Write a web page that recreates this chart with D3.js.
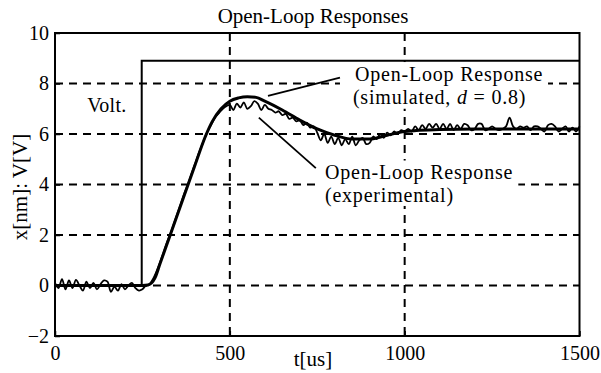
<!DOCTYPE html>
<html>
<head>
<meta charset="utf-8">
<script src="https://cdn.jsdelivr.net/npm/d3@7"></script>
<style>
  body { margin: 0; background: #fff; }
  text { font-family: "Liberation Serif", "Times New Roman", serif; fill: #000; }
</style>
</head>
<body>
<div id="chart"></div>
<script>
const xTicks = [0, 500, 1000, 1500];
const yTicks = [-2, 0, 2, 4, 6, 8, 10];
const xGrid = [500, 1000];
const yGrid = [0, 2, 4, 6, 8];

// applied voltage step
const voltT = [0, 248, 248, 1500];
const voltV = [0, 0, 8.9, 8.9];

// simulated open-loop response (d = 0.8)
const simT = [0, 250, 266, 286, 300, 350, 400, 430, 450, 475, 500, 525, 550, 575, 600, 650, 700, 750, 800, 850, 900, 950, 1000, 1100, 1200, 1300, 1400, 1500];
const simV = [0, 0, 0.02, 0.3, 0.85, 2.8, 4.75, 5.9, 6.5, 7.0, 7.3, 7.43, 7.48, 7.45, 7.3, 6.95, 6.55, 6.2, 5.95, 5.8, 5.8, 5.95, 6.1, 6.18, 6.2, 6.2, 6.2, 6.2];

// experimental response, sampled every 10 us
const expT = d3.range(0, 1501, 10);
const expV = [
  0.1, -0.1, 0.25, -0.15, 0.2, -0.1, 0.22, 0.0, -0.2, 0.15,
  -0.1, 0.1, -0.15, 0.05, 0.2, 0.15, -0.25, -0.05, -0.2, 0.05,
  -0.15, 0.0, 0.1, -0.1, -0.2, -0.15, 0.0, 0.05, 0.25, 0.55,
  0.9, 1.3, 1.7, 2.05, 2.45, 2.85, 3.25, 3.65, 4.0, 4.4,
  4.8, 5.2, 5.55, 5.9, 6.2, 6.45, 6.7, 6.85, 7.0, 7.1,
  7.15, 6.95, 7.2, 7.05, 7.25, 7.0, 7.1, 7.3, 7.2, 6.95,
  7.15, 7.0, 6.95, 6.85, 6.9, 6.75, 6.8, 6.6, 6.65, 6.5,
  6.55, 6.35, 6.45, 6.25, 6.3, 6.05, 5.75, 6.0, 5.65, 5.9,
  5.6, 5.85, 5.55, 5.8, 5.6, 5.9, 5.55, 5.75, 5.85, 5.6,
  5.65, 5.9, 5.8, 6.0, 5.85, 6.05, 5.95, 6.1, 6.0, 6.15,
  6.1, 6.2, 6.1, 6.3, 6.15, 6.35, 6.2, 6.4, 6.25, 6.4,
  6.2, 6.4, 6.2, 6.4, 6.15, 6.35, 6.2, 6.4, 6.35, 6.15,
  6.2, 6.4, 6.4, 6.15, 6.2, 6.3, 6.2, 6.15, 6.2, 6.3,
  6.65, 6.3, 6.2, 6.3, 6.25, 6.3, 6.15, 6.3, 6.3, 6.2,
  6.1, 6.35, 6.4, 6.3, 6.1, 6.2, 6.3, 6.1, 6.25, 6.1,
  6.3
];

const W = 601, H = 373;
const margin = { top: 33, right: 21.5, bottom: 37, left: 55 };
const width = W - margin.left - margin.right;
const height = H - margin.top - margin.bottom;

const svg = d3.select('#chart')
  .append('svg')
  .attr('width', W)
  .attr('height', H);

const g = svg.append('g')
  .attr('transform', `translate(${margin.left},${margin.top})`);

const x = d3.scaleLinear().domain([0, 1500]).range([0, width]);
const y = d3.scaleLinear().domain([-2, 10]).range([height, 0]);

// dashed grid
const dash = '8,6';
g.selectAll('.hgrid')
  .data(yGrid)
  .enter()
  .append('line')
  .attr('x1', 0).attr('x2', width)
  .attr('y1', d => y(d)).attr('y2', d => y(d))
  .attr('stroke', '#000').attr('stroke-width', 2)
  .attr('stroke-dasharray', dash);

g.selectAll('.vgrid')
  .data(xGrid)
  .enter()
  .append('line')
  .attr('y1', 0).attr('y2', height)
  .attr('x1', d => x(d)).attr('x2', d => x(d))
  .attr('stroke', '#000').attr('stroke-width', 2)
  .attr('stroke-dasharray', dash);

// axes with inward ticks
const xAxis = g.append('g')
  .attr('transform', `translate(0,${height})`)
  .call(d3.axisBottom(x).tickValues(xTicks).tickSize(-5).tickPadding(12).tickFormat(d3.format('d')));
const yAxis = g.append('g')
  .call(d3.axisLeft(y).tickValues(yTicks).tickSize(-5).tickPadding(6)
    .tickFormat(d => d < 0 ? '\u2212' + Math.abs(d) : d));

[xAxis, yAxis].forEach(a => {
  a.select('.domain').remove();
  a.selectAll('line').attr('stroke', '#000').attr('stroke-width', 1.5);
  a.selectAll('text')
    .style('font-family', '"Liberation Serif", "Times New Roman", serif')
    .style('font-size', '20px')
    .attr('fill', '#000');
});
xAxis.selectAll('text').attr('dy', '0.71em').attr('y', 10);

// frame
g.append('rect')
  .attr('width', width).attr('height', height)
  .attr('fill', 'none').attr('stroke', '#000').attr('stroke-width', 2);

// white patches behind annotation text
const boxes = [
  { t0: 815, t1: 1410, v0: 7.0, v1: 8.85 },
  { t0: 755, t1: 1325, v0: 3.15, v1: 4.95 }
];
g.selectAll('.box')
  .data(boxes)
  .enter()
  .append('rect')
  .attr('x', d => x(d.t0)).attr('width', d => x(d.t1) - x(d.t0))
  .attr('y', d => y(d.v1)).attr('height', d => y(d.v0) - y(d.v1))
  .attr('fill', '#fff');

const line = d3.line().x(d => x(d[0])).y(d => y(d[1]));

g.append('path')
  .datum(d3.zip(voltT, voltV))
  .attr('d', line)
  .attr('fill', 'none').attr('stroke', '#000').attr('stroke-width', 2);

g.append('path')
  .datum(d3.zip(expT, expV))
  .attr('d', line.curve(d3.curveCatmullRom))
  .attr('fill', 'none').attr('stroke', '#000').attr('stroke-width', 1.8)
  .attr('stroke-linejoin', 'round');

g.append('path')
  .datum(d3.zip(simT, simV))
  .attr('d', line.curve(d3.curveMonotoneX))
  .attr('fill', 'none').attr('stroke', '#000').attr('stroke-width', 3)
  .attr('stroke-linejoin', 'round');

// annotation leader lines
const leaders = [
  [[609, 7.51], [815, 8.23]],
  [[583, 6.65], [746, 4.65]]
];
g.selectAll('.leader')
  .data(leaders)
  .enter()
  .append('line')
  .attr('x1', d => x(d[0][0])).attr('y1', d => y(d[0][1]))
  .attr('x2', d => x(d[1][0])).attr('y2', d => y(d[1][1]))
  .attr('stroke', '#000').attr('stroke-width', 1.8);

// annotation text
const notes = g.append('g').style('font-size', '20px').style('letter-spacing', '0.8px');
notes.append('text').attr('x', x(92)).attr('y', y(6.88)).style('letter-spacing', '0.3px').text('Volt.');

notes.append('text').attr('x', x(858)).attr('y', y(8.09)).text('Open-Loop Response');
const sim = notes.append('text').attr('x', x(852)).attr('y', y(7.2));
sim.append('tspan').text('(simulated, ');
sim.append('tspan').style('font-style', 'italic').text('d');
sim.append('tspan').text(' = 0.8)');

notes.append('text').attr('x', x(772)).attr('y', y(4.2)).text('Open-Loop Response');
notes.append('text').attr('x', x(772)).attr('y', y(3.31)).text('(experimental)');

// titles
svg.append('text')
  .attr('x', 313).attr('y', 23)
  .attr('text-anchor', 'middle')
  .style('font-size', '21px')
  .text('Open-Loop Responses');

svg.append('text')
  .attr('x', 313).attr('y', 366)
  .attr('text-anchor', 'middle')
  .style('font-size', '21px')
  .text('t[us]');

svg.append('text')
  .attr('transform', 'translate(27,187) rotate(-90)')
  .attr('text-anchor', 'middle')
  .style('font-size', '21px')
  .text('x[nm]: V[V]');
</script>
</body>
</html>
